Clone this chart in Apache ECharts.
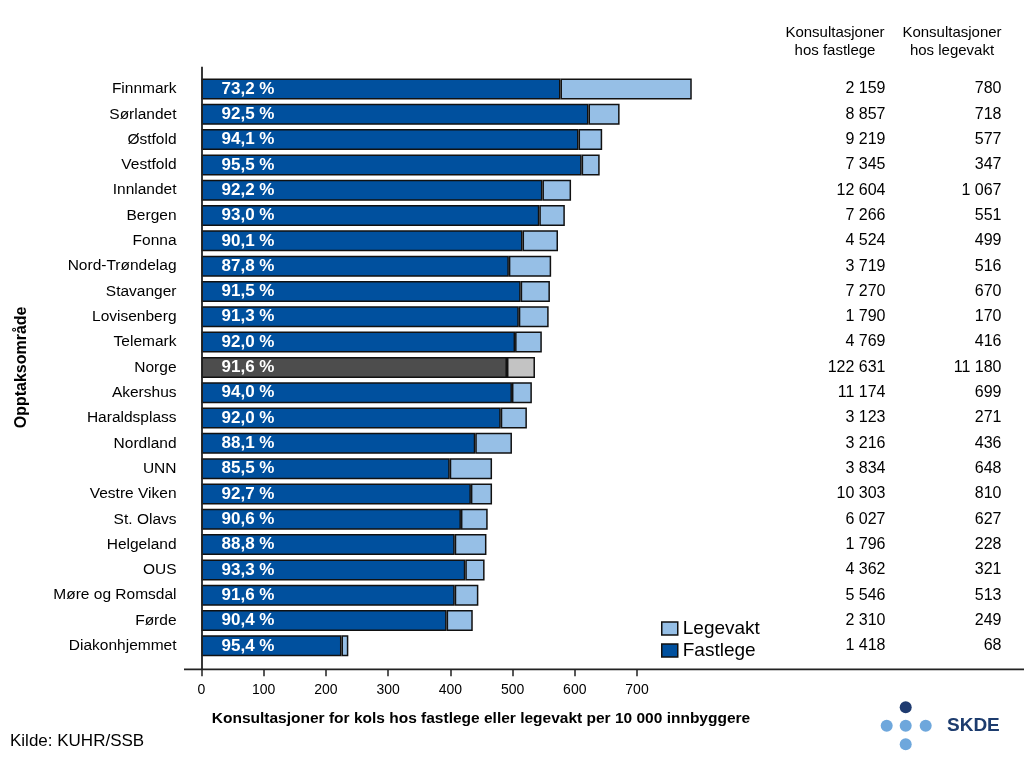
<!DOCTYPE html>
<html>
<head>
<meta charset="utf-8">
<script src="https://cdn.jsdelivr.net/npm/echarts@6/dist/echarts.min.js"></script>
<style>html,body{margin:0;padding:0;background:#fff}#c{width:1024px;height:768px}</style>
</head>
<body>
<div id="c"></div>
<script>
const categories = ['Finnmark','Sørlandet','Østfold','Vestfold','Innlandet','Bergen','Fonna','Nord-Trøndelag','Stavanger','Lovisenberg','Telemark','Norge','Akershus','Haraldsplass','Nordland','UNN','Vestre Viken','St. Olavs','Helgeland','OUS','Møre og Romsdal','Førde','Diakonhjemmet'];
const fastlege = [577,622,606,611,548,543,516,494,513,510,504,491,499,481,440,399,433,417,407,424,407,394,225];
const legevakt = [211,50,38,29,46,41,57,68,47,48,43,45,32,42,59,68,34,43,51,31,38,42,11];
const pctLabels = ['73,2 %','92,5 %','94,1 %','95,5 %','92,2 %','93,0 %','90,1 %','87,8 %','91,5 %','91,3 %','92,0 %','91,6 %','94,0 %','92,0 %','88,1 %','85,5 %','92,7 %','90,6 %','88,8 %','93,3 %','91,6 %','90,4 %','95,4 %'];
const konsFastlege = ['2 159','8 857','9 219','7 345','12 604','7 266','4 524','3 719','7 270','1 790','4 769','122 631','11 174','3 123','3 216','3 834','10 303','6 027','1 796','4 362','5 546','2 310','1 418'];
const konsLegevakt = ['780','718','577','347','1 067','551','499','516','670','170','416','11 180','699','271','436','648','810','627','228','321','513','249','68'];
const xTicks = [0,100,200,300,400,500,600,700];

const FONT = 'Liberation Sans, Arial, sans-serif';
const DARK = '#00509e', LIGHT = '#96bfe6', GREY_D = '#4d4d4d', GREY_L = '#c3c3c3';
const highlight = 'Norge';

const gridLeft = 201.5, gridTop = 76.3, gridHeight = 582.2;
const axisY = 669.3;

const chart = echarts.init(document.getElementById('c'), null, {renderer: 'canvas'});

const fastData = fastlege.map((v, i) => categories[i] === highlight ? {value: v, itemStyle: {color: GREY_D}} : v);
const legeData = legevakt.map((v, i) => categories[i] === highlight ? {value: v, itemStyle: {color: GREY_L}} : v);

const tableAxis = (arr, off) => ({
  type: 'category', data: categories, inverse: true, position: 'left', offset: off,
  axisLine: {show: false}, axisTick: {show: false}, splitLine: {show: false},
  axisLabel: {interval: 0, margin: 0, align: 'right', fontFamily: FONT, fontSize: 16, color: '#000',
    formatter: (v, i) => arr[i]}
});

chart.setOption({
  animation: false,
  textStyle: {fontFamily: FONT},
  grid: {left: gridLeft, right: 0, top: gridTop, height: gridHeight, containLabel: false, outerBoundsMode: 'none'},
  legend: {
    orient: 'vertical', left: 656, top: 614, itemWidth: 16, itemHeight: 13, itemGap: 3,
    icon: 'rect',
    data: ['Legevakt', 'Fastlege'],
    textStyle: {fontFamily: FONT, fontSize: 19, color: '#000'},
    itemStyle: {borderColor: '#111', borderWidth: 1.5}
  },
  xAxis: {
    type: 'value', min: 0, max: 1322, offset: axisY - (gridTop + gridHeight),
    axisLine: {show: false}, splitLine: {show: false},
    axisTick: {show: true, customValues: xTicks, length: 7, lineStyle: {color: '#222', width: 1.5}},
    axisLabel: {customValues: xTicks, margin: 14, fontFamily: FONT, fontSize: 14, color: '#000'}
  },
  yAxis: [
    {
      type: 'category', data: categories, inverse: true,
      axisLine: {show: false}, axisTick: {show: false},
      axisLabel: {interval: 0, margin: 25, fontFamily: FONT, fontSize: 15.5, color: '#000'},
      name: 'Opptaksområde', nameLocation: 'middle', nameRotate: 90, nameGap: 172,
      nameTextStyle: {fontFamily: FONT, fontSize: 16, fontWeight: 'bold', color: '#000'}
    },
    tableAxis(konsFastlege, -(885.5 - gridLeft)),
    tableAxis(konsLegevakt, -(1001.5 - gridLeft))
  ],
  series: [
    {
      name: 'Fastlege', type: 'bar', stack: 'tot', data: fastData, barWidth: 21,
      itemStyle: {color: DARK, borderColor: '#111', borderWidth: 1.5},
      label: {show: true, position: 'insideLeft', distance: 20, color: '#fff', fontFamily: FONT,
        fontSize: 17, fontWeight: 'bold', formatter: p => pctLabels[p.dataIndex]}
    },
    {
      name: 'Legevakt', type: 'bar', stack: 'tot', data: legeData, barWidth: 21,
      itemStyle: {color: LIGHT, borderColor: '#111', borderWidth: 1.5}
    }
  ],
  graphic: [
    {type: 'line', shape: {x1: 184, y1: axisY, x2: 1024, y2: axisY}, style: {stroke: '#222', lineWidth: 1.8}, z: 10},
    {type: 'line', shape: {x1: 202, y1: 66.7, x2: 202, y2: axisY}, style: {stroke: '#222', lineWidth: 1.8}, z: 10},
    {type: 'text', x: 835, y: 24, style: {text: 'Konsultasjoner\nhos fastlege', font: '15px ' + FONT, fill: '#000', align: 'center', lineHeight: 18}},
    {type: 'text', x: 952, y: 24, style: {text: 'Konsultasjoner\nhos legevakt', font: '15px ' + FONT, fill: '#000', align: 'center', lineHeight: 18}},
    {type: 'text', x: 481, y: 719, style: {text: 'Konsultasjoner for kols hos fastlege eller legevakt per 10 000 innbyggere', font: 'bold 15.5px ' + FONT, fill: '#000', align: 'center', verticalAlign: 'middle'}},
    {type: 'text', x: 10, y: 741, style: {text: 'Kilde: KUHR/SSB', font: '17px ' + FONT, fill: '#000', verticalAlign: 'middle'}},
    {type: 'circle', shape: {cx: 905.7, cy: 707.3, r: 6}, style: {fill: '#1f3b70'}},
    {type: 'circle', shape: {cx: 886.7, cy: 725.7, r: 6}, style: {fill: '#6ea7dc'}},
    {type: 'circle', shape: {cx: 905.7, cy: 725.7, r: 6}, style: {fill: '#6ea7dc'}},
    {type: 'circle', shape: {cx: 925.7, cy: 725.7, r: 6}, style: {fill: '#6ea7dc'}},
    {type: 'circle', shape: {cx: 905.7, cy: 744.3, r: 6}, style: {fill: '#6ea7dc'}},
    {type: 'text', x: 947, y: 726, style: {text: 'SKDE', font: 'bold 19px ' + FONT, fill: '#1d3c6e', verticalAlign: 'middle'}}
  ]
});
</script>
</body>
</html>
